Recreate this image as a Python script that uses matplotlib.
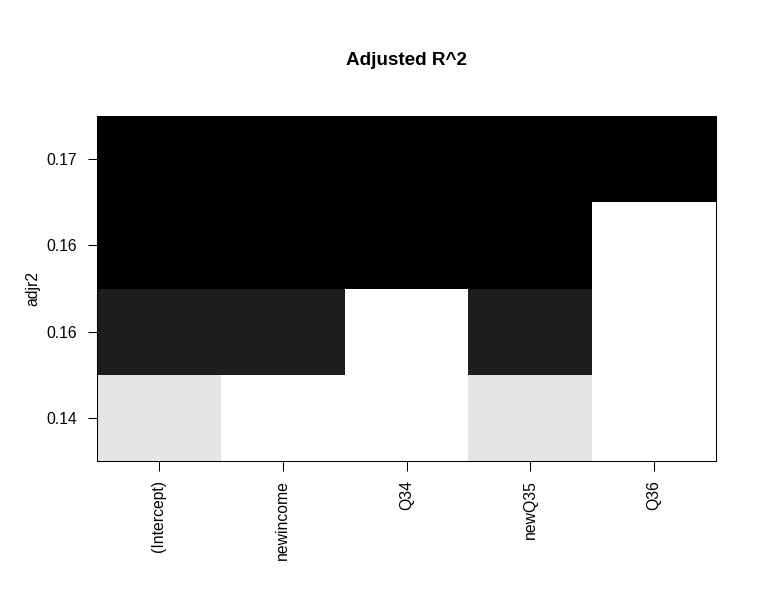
import numpy as np
import matplotlib
matplotlib.use("Agg")
import matplotlib.pyplot as plt

plt.rcParams["font.family"] = ["Liberation Sans", "DejaVu Sans"]

# regsubsets-style model selection plot (adjusted R^2)
variables = ["(Intercept)", "newincome", "Q34", "newQ35", "Q36"]
adjr2_labels = ["0.14", "0.16", "0.16", "0.17"]          # bottom -> top
# which variables are in each model (rows bottom -> top)
included = [
    [1, 0, 0, 1, 0],
    [1, 1, 0, 1, 0],
    [1, 1, 1, 1, 0],
    [1, 1, 1, 1, 1],
]
# grey level of each model's row (1 = white, 0 = black)
row_shade = [0.898, 0.114, 0.0, 0.0]

inc = np.array(included, dtype=float)
shade = np.where(inc > 0, np.array(row_shade)[:, None], 1.0)

fig = plt.figure(figsize=(7.76, 5.98), dpi=100)
ax = fig.add_axes([0.125, 0.2291, 0.7977, 0.5769])

nrow, ncol = shade.shape
xe = np.arange(ncol + 1) + 0.5
ye = np.arange(nrow + 1) + 0.5
ax.pcolormesh(xe, ye, shade, cmap="gray", vmin=0, vmax=1, shading="flat",
              edgecolors="none", antialiased=False)
ax.set_xlim(0.5, ncol + 0.5)
ax.set_ylim(0.5, nrow + 0.5)

ax.set_xticks(np.arange(1, ncol + 1))
ax.set_xticklabels(variables, rotation=90, fontsize=11.3)
ax.set_yticks(np.arange(1, nrow + 1))
ax.set_yticklabels(adjr2_labels, fontsize=11.3)
ax.tick_params(axis="x", length=7.5, width=0.75, pad=6.5)
ax.tick_params(axis="y", length=6.5, width=0.75, pad=8)
for s in ax.spines.values():
    s.set_linewidth(0.75)

ax.set_ylabel("adjr2", fontsize=11.3, labelpad=4)
fig.text(0.5238, 0.899, "Adjusted R^2", ha="center", va="center",
         fontsize=13.6, fontweight="bold")

fig.savefig("out.png", dpi=100)
